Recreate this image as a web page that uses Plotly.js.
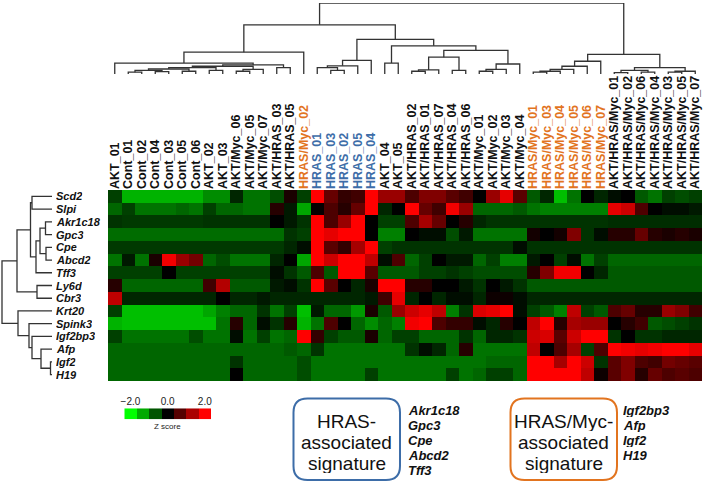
<!DOCTYPE html>
<html><head><meta charset="utf-8">
<script src="https://cdn.plot.ly/plotly-3.0.1.min.js"></script>
<style>html,body{margin:0;padding:0;background:#fff}</style>
</head><body>
<div id="chart" style="width:709px;height:486px"></div>
<script>
const genes = ['Scd2','Slpi','Akr1c18','Gpc3','Cpe','Abcd2','Tff3','Ly6d','Cbr3','Krt20','Spink3','Igf2bp3','Afp','Igf2','H19'];
const samples = ['AKT_01','Cont_01','Cont_02','Cont_04','Cont_03','Cont_05','Cont_06','AKT_02','AKT_03',
 'AKT/Myc_06','AKT/Myc_05','AKT/Myc_07','AKT/HRAS_03','AKT/HRAS_05','HRAS/Myc_02',
 'HRAS_01','HRAS_03','HRAS_02','HRAS_05','HRAS_04','AKT_04','AKT_05',
 'AKT/HRAS_02','AKT/HRAS_01','AKT/HRAS_07','AKT/HRAS_04','AKT/HRAS_06',
 'AKT/Myc_01','AKT/Myc_02','AKT/Myc_03','AKT/Myc_04',
 'HRAS/Myc_01','HRAS/Myc_03','HRAS/Myc_04','HRAS/Myc_05','HRAS/Myc_06','HRAS/Myc_07',
 'AKT/HRAS/Myc_01','AKT/HRAS/Myc_02','AKT/HRAS/Myc_06','AKT/HRAS/Myc_04','AKT/HRAS/Myc_03','AKT/HRAS/Myc_05','AKT/HRAS/Myc_07'];

// Z scores, one row per gene, one value per sample (in the column order above)
const zScd2    = [-0.5,-1.4,-1.4,-1.4,-1.4,-1.4,-1.4,-1.1,-1.1,-0.3,-0.9,-0.9,-0.6,0.2,-0.5,2.0,0.8,0.4,0.5,2.0,1.2,1.2,0.6,1.0,1.0,0.7,0.5,0.0,1.2,1.8,0.7,-0.7,-0.3,-1.5,-0.9,0.0,-0.3,-0.1,0.0,-0.7,-0.9,-0.5,-0.6,-0.5];
const zSlpi    = [-0.8,-0.5,-0.9,-0.9,-0.9,-0.8,-0.9,-0.5,-0.8,-0.8,-0.9,-0.9,0.3,-0.2,-1.3,0.05,0.6,0.3,0.8,2.0,-0.3,0.0,2.0,0.8,0.5,1.9,1.2,-0.8,-0.8,-0.8,-0.7,-0.9,-1.0,-1.0,-1.0,-1.0,-1.0,1.8,1.6,0.6,0.0,-0.1,-0.1,-0.2];
const zAkr1c18 = [-0.4,-0.45,-0.45,-0.45,-0.45,-0.45,-0.45,-0.4,-0.4,-0.4,-0.4,-0.4,0.0,-0.2,-0.4,2.0,0.6,1.2,2.0,0.0,-0.5,-0.5,0.6,1.3,0.8,0.0,0.3,-0.3,-0.4,-0.4,-0.4,-0.4,-0.4,-0.4,-0.4,-0.4,-0.4,-0.35,-0.35,-0.35,-0.35,-0.35,-0.35,-0.35];
const zGpc3    = [-0.85,-0.85,-0.85,-0.85,-0.85,-0.85,-0.85,-0.85,-0.85,-0.85,-0.85,-0.85,-0.85,-0.4,-0.5,2.0,1.8,2.0,2.0,0.0,-1.0,-1.0,0.0,-0.1,-0.1,-0.6,-0.2,-0.9,-0.9,-0.9,-0.9,0.15,0.0,0.15,1.0,-0.4,-0.1,0.3,0.3,0.8,0.3,0.2,0.3,0.2];
const zCpe     = [-0.45,-0.45,-0.45,-0.45,-0.45,-0.45,-0.45,-0.45,-0.45,-0.45,-0.45,-0.45,-0.45,-0.3,-0.1,2.0,0.7,0.4,1.3,2.0,-0.5,-0.4,-0.4,-0.4,-0.4,-0.4,-0.4,-0.4,-0.4,-0.4,-0.1,-0.4,-0.4,-0.4,-0.4,-0.4,-0.4,-0.4,-0.4,-0.4,-0.4,-0.4,-0.4,-0.4];
const zAbcd2   = [-0.9,-0.2,-0.9,0.2,1.9,1.2,0.9,-0.8,-0.6,-0.9,-0.9,-0.9,-0.3,0.0,-1.3,2.0,1.6,2.0,2.0,1.5,-0.1,0.6,-0.8,-0.5,0.0,-0.2,-0.2,-0.8,-0.5,-1.0,-1.0,-0.2,0.0,-0.5,-0.1,-0.9,-0.5,-0.8,-0.8,-0.8,-0.8,-0.8,-0.8,-0.8];
const zTff3    = [-0.5,-0.5,-0.5,-0.5,0.0,-0.5,-0.5,-0.5,-0.5,-0.5,-0.5,-0.5,-0.1,-0.4,-0.7,0.6,-0.7,2.0,2.0,0.7,-0.7,-0.7,-0.7,-0.5,-0.5,-0.4,-0.5,-0.6,-0.6,-0.6,-0.6,0.3,1.0,1.9,1.9,0.0,-0.3,-0.7,-0.7,-0.7,-0.7,-0.7,-0.7,-0.7];
const zLy6d    = [0.3,-0.8,-0.8,-0.8,-0.8,-0.8,-0.8,0.5,1.4,-0.7,-0.7,-0.7,-0.2,-0.1,-0.4,2.0,0.7,0.0,-0.3,0.2,2.0,2.0,0.3,0.3,0.0,0.0,-0.2,-0.4,0.0,-0.2,-0.4,-0.7,-0.7,-0.7,-0.7,-0.7,-0.7,-0.7,-0.7,-0.7,-0.7,-0.7,-0.7,-0.7];
const zCbr3    = [1.5,-0.3,-0.3,-0.3,-0.3,-0.3,-0.3,-0.3,0.0,-0.3,-0.3,-0.2,-0.3,-0.3,-0.3,-0.3,-0.3,-0.3,-0.3,-0.2,0.5,1.8,-0.3,0.0,-0.3,-0.1,-0.1,-0.3,0.1,0.1,-0.1,-0.3,-0.3,-0.3,-0.3,-0.3,-0.3,-0.3,-0.3,-0.3,-0.3,-0.3,-0.3,-0.3];
const zKrt20   = [-0.5,-1.5,-1.5,-1.5,-1.5,-1.5,-1.5,-1.3,-1.0,-0.8,-0.8,-0.4,-0.9,-0.5,-1.5,-0.2,-0.8,-0.8,-1.2,0.2,-0.7,1.2,1.6,1.8,1.5,-1.0,-0.4,1.7,1.8,2.0,-0.1,-0.5,-0.7,-1.0,1.5,-0.5,-0.7,0.6,0.8,0.3,0.3,1.2,1.0,0.5];
const zSpink3  = [-1.4,-1.5,-1.5,-1.5,-1.5,-1.5,-1.5,-1.5,-0.9,0.3,-0.8,-0.1,-0.4,0.3,-1.4,-0.9,0.6,0.0,-0.8,-1.1,-0.8,-1.0,1.9,2.0,0.6,0.4,0.4,-0.1,-0.3,0.3,0.0,1.5,2.0,0.3,1.3,1.2,1.2,0.0,0.3,0.5,-0.7,-0.6,-0.5,-0.4];
const zIgf2bp3 = [-0.5,-0.9,-0.9,-0.9,-0.9,-0.9,-0.6,-0.9,-0.9,-0.1,-0.9,-0.5,-0.9,-0.8,2.0,0.4,-0.5,-0.7,-0.7,0.2,-0.8,-0.5,-0.5,-0.8,-0.8,-0.8,-0.4,-0.8,-0.3,-0.3,-0.4,1.6,1.7,0.7,1.6,2.0,2.0,-0.4,0.0,-0.4,-0.4,-0.3,-0.3,-0.3];
const zAfp     = [-0.8,-0.8,-0.8,-0.8,-0.8,-0.8,-0.8,-0.8,-0.8,-0.8,-0.8,-0.8,-0.8,-0.7,-0.8,-0.4,-0.9,-0.9,-0.9,-0.9,-0.9,-0.9,-0.4,-0.1,-0.3,-0.8,0.3,-0.9,-0.9,-0.9,-0.9,1.5,0.0,0.6,1.3,-0.5,0.6,2.0,1.9,1.8,1.9,2.0,2.0,1.8];
const zIgf2    = [-0.8,-0.8,-0.8,-0.8,-0.8,-0.8,-0.8,-0.8,-0.8,-0.4,-0.8,-0.8,-0.8,-0.8,-0.6,-0.9,-0.9,-0.9,-0.9,-0.9,-0.9,-0.9,-0.9,-0.9,-0.9,-0.9,-0.9,-0.9,-0.8,-0.8,-0.8,2.0,2.0,1.3,2.0,1.6,-0.4,0.7,1.0,0.6,0.5,0.9,0.8,0.7];
const zH19     = [-0.8,-0.8,-0.8,-0.8,-0.8,-0.8,-0.8,-0.8,-0.8,0.0,-0.8,-0.8,-0.8,-0.8,-0.6,-0.9,-0.9,-0.9,-0.9,-0.5,-0.9,-0.9,-0.9,-0.9,-0.9,-0.5,-0.9,-0.8,-0.5,-0.5,-0.8,2.0,2.0,2.0,2.0,1.5,0.1,0.7,1.0,0.3,0.8,0.6,0.7,0.6];
const zScores = [zScd2,zSlpi,zAkr1c18,zGpc3,zCpe,zAbcd2,zTff3,zLy6d,zCbr3,zKrt20,zSpink3,zIgf2bp3,zAfp,zIgf2,zH19];

// Column dendrogram merges: [childA, childB, height]; index < 44 = sample, >= 44 = earlier merge (44 + k)
const colMerges = [
 [1,2,2],[3,4,2.5],[44,45,4],[5,6,3],[46,47,5.5],[7,8,4],[48,49,7],[9,10,3],[51,11,5],[50,52,8.5],
 [12,13,7],[53,54,10],[0,55,12],[56,14,24],
 [16,17,4],[15,58,7],[59,18,9],[60,19,15],
 [20,21,12],
 [22,23,3],[63,24,4.5],[25,26,4],[64,65,18.5],
 [27,28,3],[67,29,5],[68,30,11],[66,69,26],[62,70,31],[61,71,38],[57,72,54],
 [31,32,2],[74,33,3],[75,34,5],[76,35,8.5],[77,36,14],
 [37,38,1.5],[39,40,2],[79,80,4],[41,42,2],[82,43,3],[81,83,7],[78,84,21.5],
 [73,85,78]
];
// Row dendrogram merges: index < 15 = gene, >= 15 = earlier merge (15 + k)
const rowMerges = [
 [0,1,20],[2,3,6.5],[4,5,6],[16,17,12],[18,6,16],[15,19,21.5],[7,8,15],[20,21,35],
 [13,14,1.5],[12,23,11],[11,24,20],[10,25,23],[9,26,34],[22,27,50]
];

const legendLevels = [-2.0,-1.333,-0.667,0.0,0.667,1.333,2.0];
const legendTickVals = [0,3,6];
const legendTickText = ['\u22122.0','0.0','2.0'];
const hrasSignatureTitle = ['HRAS-','associated','signature'];
const hrasSignatureGenes = ['Akr1c18','Gpc3','Cpe','Abcd2','Tff3'];
const hrasMycSignatureTitle = ['HRAS/Myc-','associated','signature'];
const hrasMycSignatureGenes = ['Igf2bp3','Afp','Igf2','H19'];

// ---------- drawing ----------
const W = 709, H = 486;
const FONT = 'Liberation Sans, Arial, Helvetica, sans-serif';
const BLUE = '#3d6da8', ORANGE = '#e2741f';
const px = v => v / W, py = v => 1 - v / H;

function dendro(n, merges) {
  const pos = [], hgt = [];
  for (let i = 0; i < n; i++) { pos.push(i); hgt.push(0); }
  const a = [], h = [];
  merges.forEach(([l, r, d]) => {
    a.push(pos[l], pos[l], pos[r], pos[r], null);
    h.push(hgt[l], d, d, hgt[r], null);
    pos.push((pos[l] + pos[r]) / 2); hgt.push(d);
  });
  return {a, h};
}
const colTree = dendro(samples.length, colMerges);
const rowTree = dendro(genes.length, rowMerges);

function labelHtml(s) {
  if (s.startsWith('HRAS/Myc')) return '<span style="color:' + ORANGE + '">' + s + '</span>';
  if (s.startsWith('HRAS_')) return '<span style="color:' + BLUE + '">' + s + '</span>';
  return s;
}

const scale = [[0,'rgb(0,255,0)'],[0.5,'rgb(0,0,0)'],[1,'rgb(255,0,0)']];
const rowIdx = genes.map((_, i) => i);

const traces = [
  {type:'heatmap', z: zScores, x: samples.map((_, i) => i), y: rowIdx,
   colorscale: scale, zmin: -2, zmax: 2, showscale: false, xaxis:'x', yaxis:'y', hoverinfo:'skip'},
  {type:'scatter', mode:'lines', x: colTree.a, y: colTree.h, xaxis:'x', yaxis:'y2',
   line:{color:'#333', width:1.3}, hoverinfo:'skip', connectgaps:false},
  {type:'scatter', mode:'lines', x: rowTree.h, y: rowTree.a, xaxis:'x3', yaxis:'y',
   line:{color:'#333', width:1.3}, hoverinfo:'skip', connectgaps:false},
  {type:'heatmap', z:[legendLevels], x: legendLevels.map((_, i) => i), y:[0],
   colorscale: scale, zmin: -2, zmax: 2, showscale:false, xaxis:'x4', yaxis:'y4', hoverinfo:'skip'}
];

function roundRect(x0, y0, x1, y1, r) {
  const X = v => px(v).toFixed(5), Y = v => py(v).toFixed(5);
  return `M${X(x0+r)},${Y(y0)} L${X(x1-r)},${Y(y0)} Q${X(x1)},${Y(y0)} ${X(x1)},${Y(y0+r)} ` +
         `L${X(x1)},${Y(y1-r)} Q${X(x1)},${Y(y1)} ${X(x1-r)},${Y(y1)} L${X(x0+r)},${Y(y1)} ` +
         `Q${X(x0)},${Y(y1)} ${X(x0)},${Y(y1-r)} L${X(x0)},${Y(y0+r)} Q${X(x0)},${Y(y0)} ${X(x0+r)},${Y(y0)} Z`;
}

const annotations = [];
genes.forEach((g, i) => annotations.push({
  text: g, x: px(54.5), xref:'paper', xanchor:'left', y: i, yref:'y', yanchor:'middle', showarrow:false,
  height: 12, borderpad: 0,
  font:{family: FONT, size: 11, color:'#111', weight:'bold', style:'italic'}
}));
annotations.push({text:'Z score', x: px(167.7), y: py(426.7), xref:'paper', yref:'paper', showarrow:false,
  xanchor:'center', yanchor:'middle', font:{family: FONT, size: 8, color:'#222'}});

function signature(titleLines, geneList, cx, gx) {
  const ty = [421.5, 442, 463];
  titleLines.forEach((t, i) => annotations.push({text: t, x: px(cx), y: py(ty[i]), xref:'paper', yref:'paper',
    showarrow:false, xanchor:'center', yanchor:'middle', height: 19, borderpad: 0,
    font:{family: FONT, size: 19, color:'#111'}}));
  geneList.forEach((g, i) => annotations.push({text: g, x: px(gx), y: py(410 + i * 15), xref:'paper', yref:'paper',
    showarrow:false, xanchor:'left', yanchor:'middle', height: 14, borderpad: 0,
    font:{family: FONT, size: 13, color:'#111', weight:'bold', style:'italic'}}));
}
signature(hrasSignatureTitle, hrasSignatureGenes, 346.5, 406.5);
signature(hrasMycSignatureTitle, hrasMycSignatureGenes, 563.5, 621.5);

const shapes = [
  {type:'path', xref:'paper', yref:'paper', path: roundRect(293.5, 398.5, 400, 480, 14), line:{color: BLUE, width: 2}},
  {type:'path', xref:'paper', yref:'paper', path: roundRect(510.5, 398.5, 617, 480, 14), line:{color: ORANGE, width: 2}}
];

const layout = {
  width: W, height: H, margin:{l:0, r:0, t:0, b:0}, paper_bgcolor:'#fff', plot_bgcolor:'rgba(0,0,0,0)',
  showlegend:false, font:{family: FONT},
  xaxis:{domain:[px(108), px(702)], range:[-0.5, samples.length - 0.5], side:'top', anchor:'y',
    tickmode:'array', tickvals: samples.map((_, i) => i), ticktext: samples.map(labelHtml), tickangle:-90,
    ticks:'', showgrid:false, zeroline:false, showline:false,
    tickfont:{family: FONT, size: 12.5, color:'#111', weight:'bold'}},
  yaxis:{domain:[py(381), py(190)], range:[genes.length - 0.5, -0.5], showticklabels:false, showgrid:false,
    zeroline:false, ticks:'', anchor:'x'},
  yaxis2:{domain:[py(74), py(3)], range:[0, 78], visible:false, anchor:'x'},
  xaxis3:{domain:[0, px(52)], range:[52, 0], visible:false, anchor:'y'},
  xaxis4:{domain:[px(124.3), px(211)], range:[-0.5, 6.5], side:'top', anchor:'y4', tickmode:'array',
    tickvals: legendTickVals, ticktext: legendTickText, ticks:'', showgrid:false, zeroline:false, showline:false,
    tickfont:{family: FONT, size: 10, color:'#222'}},
  yaxis4:{domain:[py(419.3), py(408.3)], range:[-0.5, 0.5], visible:false, anchor:'x4'},
  annotations, shapes
};

Plotly.newPlot('chart', traces, layout, {staticPlot:true, displayModeBar:false});
</script>
</body></html>
